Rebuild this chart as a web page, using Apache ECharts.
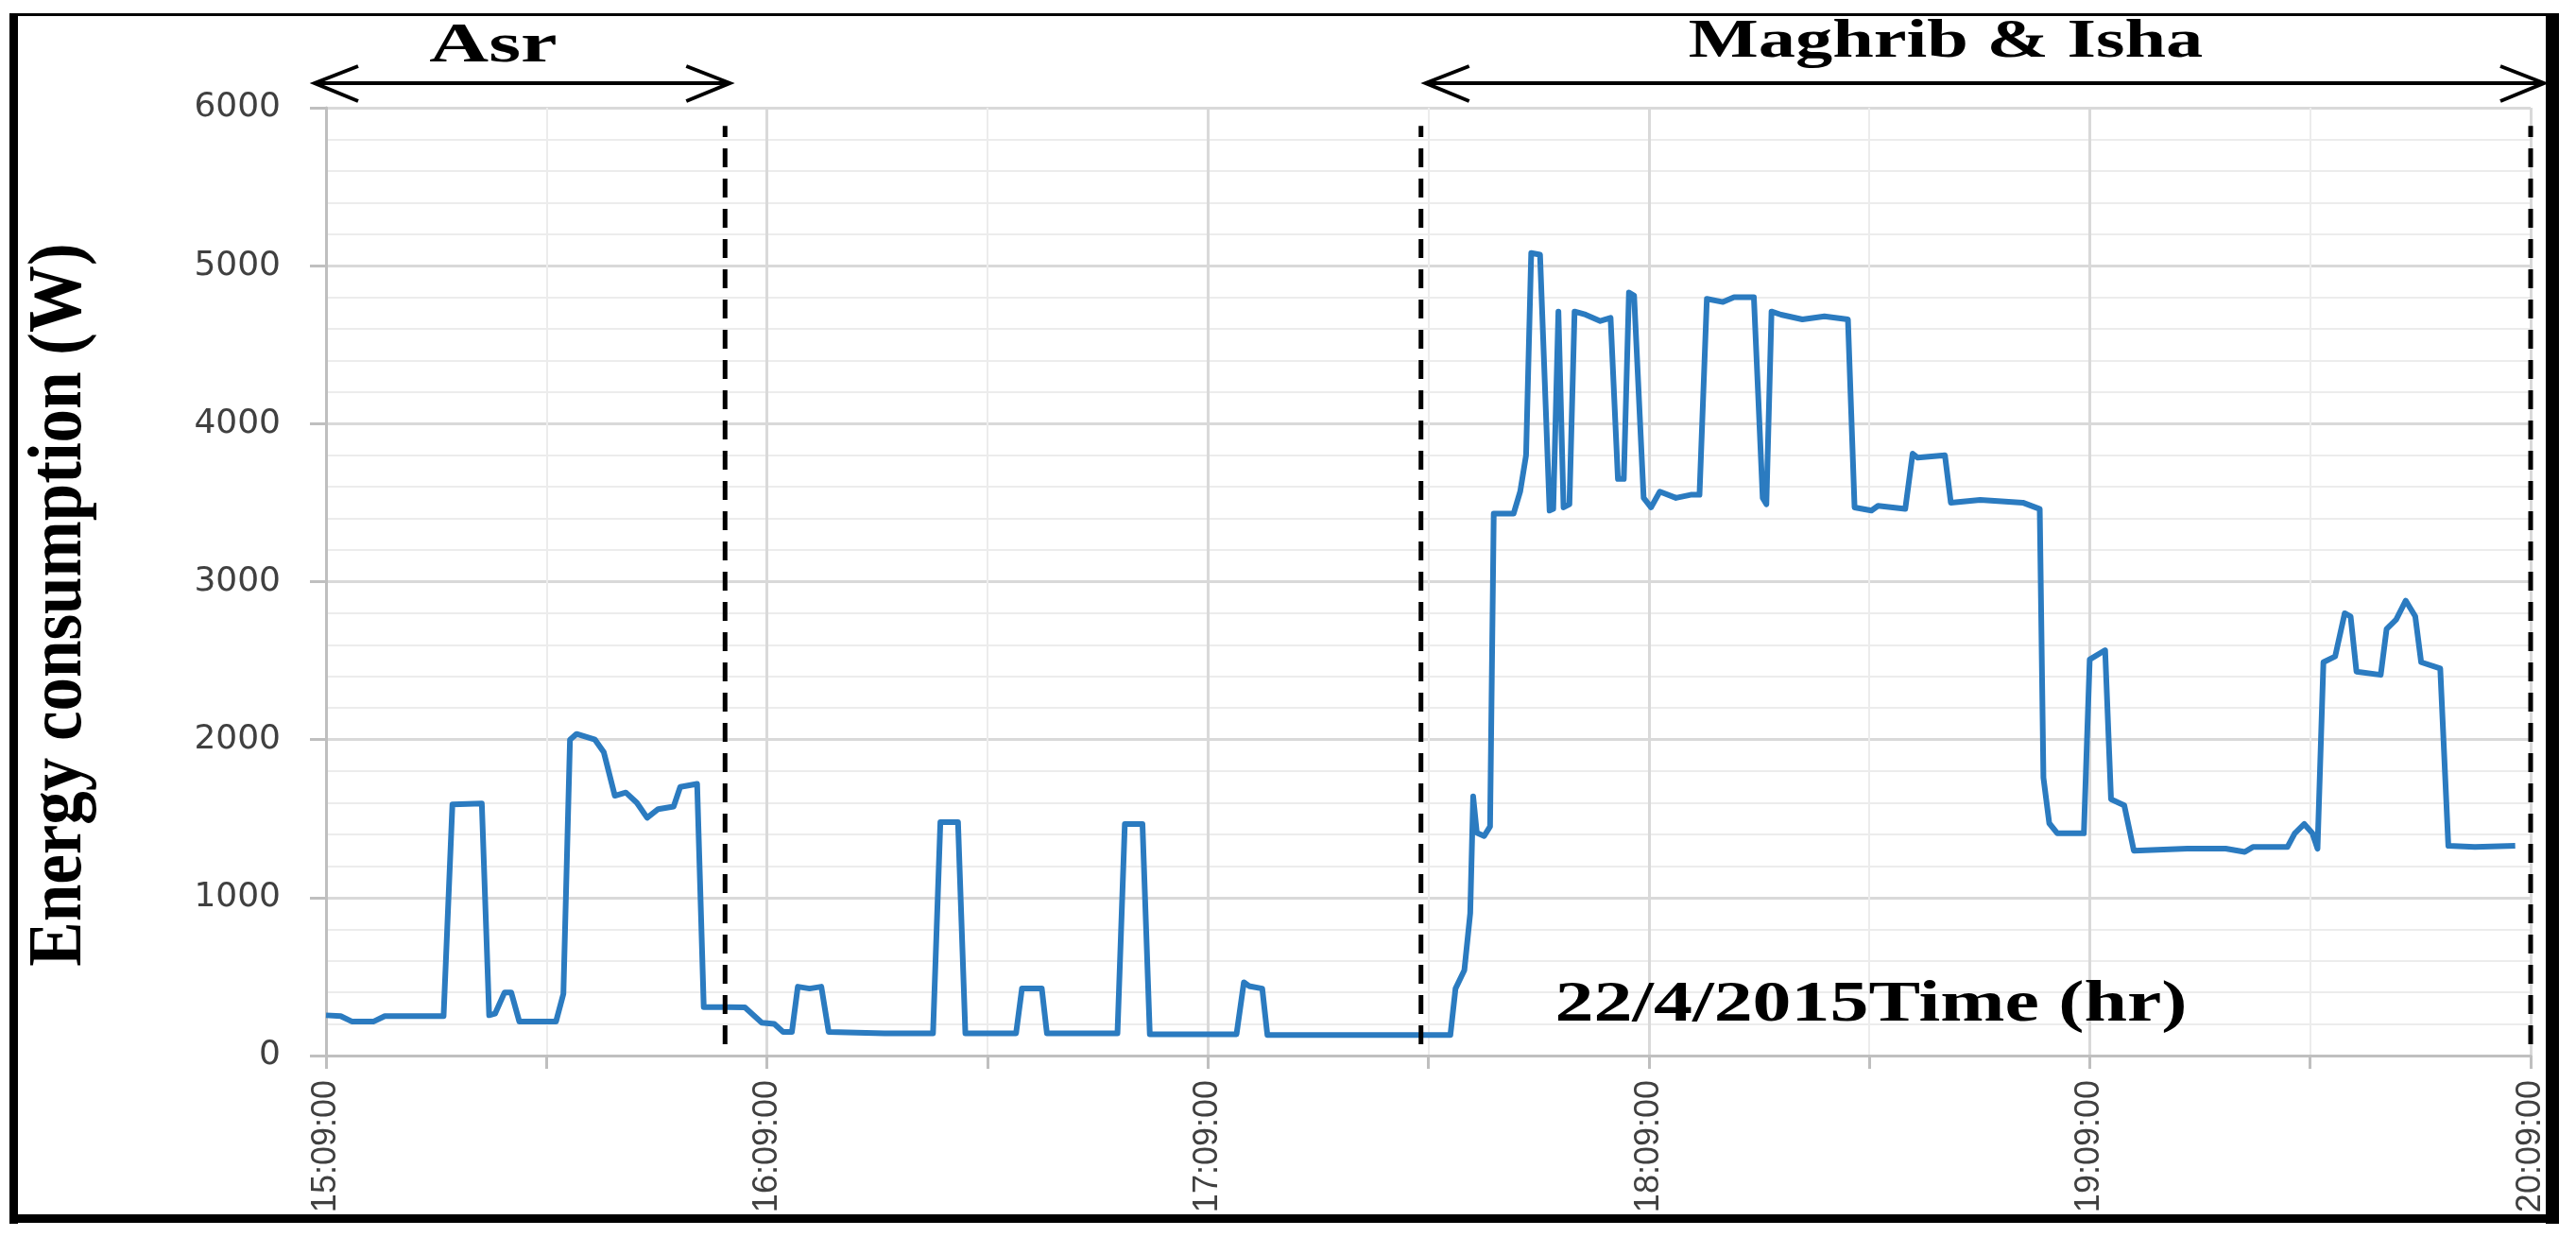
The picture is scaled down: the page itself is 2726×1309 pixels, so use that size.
<!DOCTYPE html>
<html>
<head>
<meta charset="utf-8">
<title>Energy consumption 22/4/2015</title>
<script src="https://cdn.jsdelivr.net/npm/echarts@6.0.0/dist/echarts.min.js"></script>
<style>
  html, body { margin: 0; padding: 0; background: #fff; }
  #graph { width: 2726px; height: 1309px; }
</style>
</head>
<body>
<div id="graph"></div>
<script>
// minutes after 15:09:00, watts
const asrReadings = [
  [0, 255], [2, 250], [3.5, 216], [6.5, 216], [8, 250], [16, 250], [17.2, 1590], [21.2, 1595],
  [22.2, 255], [23, 265], [24.3, 400], [25.2, 400], [26.3, 216], [31.3, 216], [32.3, 390],
  [33.2, 2000], [34.1, 2036], [36.6, 2000], [37.8, 1920], [39.3, 1645], [40.8, 1665], [42.3, 1600],
  [43.7, 1505], [45.2, 1560], [47.3, 1576], [48.2, 1700], [50.5, 1720], [51.4, 307], [54.6, 307]
]
const afternoonReadings = [
  [57, 305], [59.3, 208], [61, 200], [62.2, 150], [63.4, 150], [64.2, 436], [65.8, 424], [67.4, 436],
  [68.4, 150], [76, 141], [82.6, 141], [83.6, 1478], [86, 1478], [87, 141], [93.9, 141], [94.7, 424],
  [97.4, 424], [98.1, 141], [107.7, 141], [108.7, 1466], [111.1, 1466], [112.1, 135], [123.9, 135],
  [124.9, 464], [125.6, 440], [127.4, 424], [128.1, 130], [153, 130]
]
const maghribReadings = [
  [153.7, 424], [154.9, 540], [155.7, 900], [156.1, 1640], [156.6, 1410], [157.6, 1390], [158.4, 1450],
  [158.9, 3430], [161.6, 3430], [162.5, 3570], [163.3, 3800], [164, 5080], [165.2, 5070], [166.5, 3450],
  [167, 3460], [167.7, 4710], [168.4, 3470], [169.2, 3490], [169.9, 4710], [171.4, 4690], [173.4, 4650],
  [174.8, 4670], [175.8, 3650], [176.6, 3650], [177.3, 4830], [178, 4810], [179.3, 3530], [180.3, 3470],
  [181.5, 3570], [183.7, 3530], [185.7, 3550], [186.9, 3550], [187.9, 4790], [190.1, 4770], [191.6, 4800],
  [194.3, 4800], [195.5, 3530], [196, 3490], [196.7, 4710], [198, 4690], [200.9, 4660], [203.9, 4680],
  [207.1, 4660], [208, 3470], [210.3, 3450], [211.2, 3480], [214.9, 3460], [215.9, 3810], [216.6, 3785],
  [220.3, 3800], [221.1, 3500]
]
const ishaReadings = [
  [225.1, 3517], [230.9, 3500], [233.2, 3460], [233.7, 1760], [234.5, 1470], [235.6, 1407], [239.2, 1407],
  [240, 2507], [242.1, 2566], [242.9, 1623], [244.7, 1584], [246, 1297], [253.3, 1310], [258.5, 1310],
  [261.1, 1289], [262.2, 1320], [266.9, 1320], [267.9, 1407], [269.2, 1466], [270.3, 1407], [271, 1309],
  [271.8, 2490], [273.4, 2527], [274.7, 2800], [275.5, 2780], [276.3, 2430], [279.6, 2410], [280.4, 2700],
  [281.7, 2760], [283, 2880], [284.3, 2780], [285.1, 2490], [287.7, 2450], [288.8, 1328], [292.4, 1320],
  [297.9, 1328]
]
const timeLabels = ['15:09:00', '16:09:00', '17:09:00', '18:09:00', '19:09:00', '20:09:00']
// prayer period boundaries, minutes after 15:09
const asrStart = 0
const asrEnd = 54.3
const maghribStart = 149
const maghribEnd = 300

const dashLow = 72
const dashHigh = 5885

var myChart = echarts.init(document.getElementById('graph'))

function dashed (m) {
  return {
    type: 'line',
    data: [[m, dashLow], [m, dashHigh]],
    symbol: 'none',
    clip: false,
    silent: true,
    lineStyle: { color: '#000', width: 5, type: [20, 12] },
    z: 4
  }
}

myChart.setOption({
  animation: false,
  backgroundColor: '#fff',
  grid: { left: 345, top: 114, width: 2333, height: 1003, outerBoundsMode: 'none' },
  xAxis: {
    type: 'value',
    min: 0,
    max: 300,
    interval: 60,
    axisLine: { show: true, onZero: false, lineStyle: { color: '#bfbfbf', width: 3 } },
    axisTick: { show: true, length: 14, lineStyle: { color: '#bfbfbf', width: 3 } },
    minorTick: { show: true, splitNumber: 2, length: 14, lineStyle: { color: '#bfbfbf', width: 3 } },
    axisLabel: {
      rotate: 90,
      margin: 26,
      fontFamily: 'Liberation Sans',
      fontSize: 36,
      color: '#404040',
      formatter: function (v) { return timeLabels[Math.round(v / 60)] }
    },
    splitLine: { show: true, lineStyle: { color: '#d9d9d9', width: 3 } },
    minorSplitLine: { show: true, lineStyle: { color: '#ececec', width: 2 } }
  },
  yAxis: {
    type: 'value',
    min: 0,
    max: 6000,
    interval: 1000,
    axisLine: { show: true, lineStyle: { color: '#bfbfbf', width: 3 } },
    axisTick: { show: true, length: 17, lineStyle: { color: '#bfbfbf', width: 3 } },
    minorTick: { show: false, splitNumber: 5 },
    axisLabel: {
      margin: 48,
      fontFamily: 'DejaVu Sans',
      fontSize: 36,
      color: '#404040',
      formatter: function (v) { return String(v) }
    },
    splitLine: { show: true, lineStyle: { color: '#d9d9d9', width: 3 } },
    minorSplitLine: { show: true, lineStyle: { color: '#ececec', width: 2 } }
  },
  series: [
    {
      name: 'Energy consumption',
      type: 'line',
      data: asrReadings.concat(afternoonReadings, maghribReadings, ishaReadings),
      symbol: 'none',
      smooth: false,
      lineStyle: { color: '#2b7bc0', width: 6, join: 'round' },
      z: 3
    },
    dashed(asrEnd),
    dashed(maghribStart),
    dashed(maghribEnd)
  ]
})

// annotations placed from the axis scale
function px (m) {
  return myChart.convertToPixel({ gridIndex: 0 }, [m, 0])[0]
}

function arrow (x1, x2, y) {
  const st = { stroke: '#000', lineWidth: 4, fill: null }
  return [
    { type: 'line', shape: { x1: x1, y1: y, x2: x2, y2: y }, style: st, z: 10 },
    { type: 'polyline', shape: { points: [[x1 + 46, y - 18], [x1, y], [x1 + 46, y + 19]] }, style: st, z: 10 },
    { type: 'polyline', shape: { points: [[x2 - 46, y - 18], [x2, y], [x2 - 46, y + 19]] }, style: st, z: 10 }
  ]
}

function label (text, x, y, size, sx, sy, rot) {
  return {
    type: 'text',
    x: x,
    y: y,
    rotation: rot || 0,
    scaleX: sx,
    scaleY: sy,
    z: 10,
    style: {
      text: text,
      fontFamily: 'Liberation Serif',
      fontWeight: 'bold',
      fontSize: size,
      fill: '#000',
      textAlign: 'center',
      textVerticalAlign: 'middle'
    }
  }
}

const arrowY = 88
let elements = []
elements = elements.concat(arrow(px(asrStart) - 12, px(asrEnd) + 5, arrowY))
elements = elements.concat(arrow(px(maghribStart) + 5, px(maghribEnd) + 14, arrowY))
elements.push(label('Asr', 522, 49, 60, 1.45, 1))
elements.push(label('Maghrib & Isha', 2059, 46, 56, 1.4, 1))
elements.push(label('22/4/2015Time (hr)', 1980, 1064, 62, 1.32, 1))
elements.push(label('Energy consumption (W)', 64, 640, 71, 1, 1.12, Math.PI / 2))

// black frame
elements.push(
  { type: 'rect', shape: { x: 10, y: 14, width: 2698, height: 3 }, style: { fill: '#000' }, z: 20 },
  { type: 'rect', shape: { x: 10, y: 14, width: 9, height: 1281 }, style: { fill: '#000' }, z: 20 },
  { type: 'rect', shape: { x: 2694, y: 14, width: 14, height: 1281 }, style: { fill: '#000' }, z: 20 },
  { type: 'rect', shape: { x: 10, y: 1285, width: 2698, height: 9 }, style: { fill: '#000' }, z: 20 }
)

myChart.setOption({ graphic: { elements: elements } })
</script>
</body>
</html>
